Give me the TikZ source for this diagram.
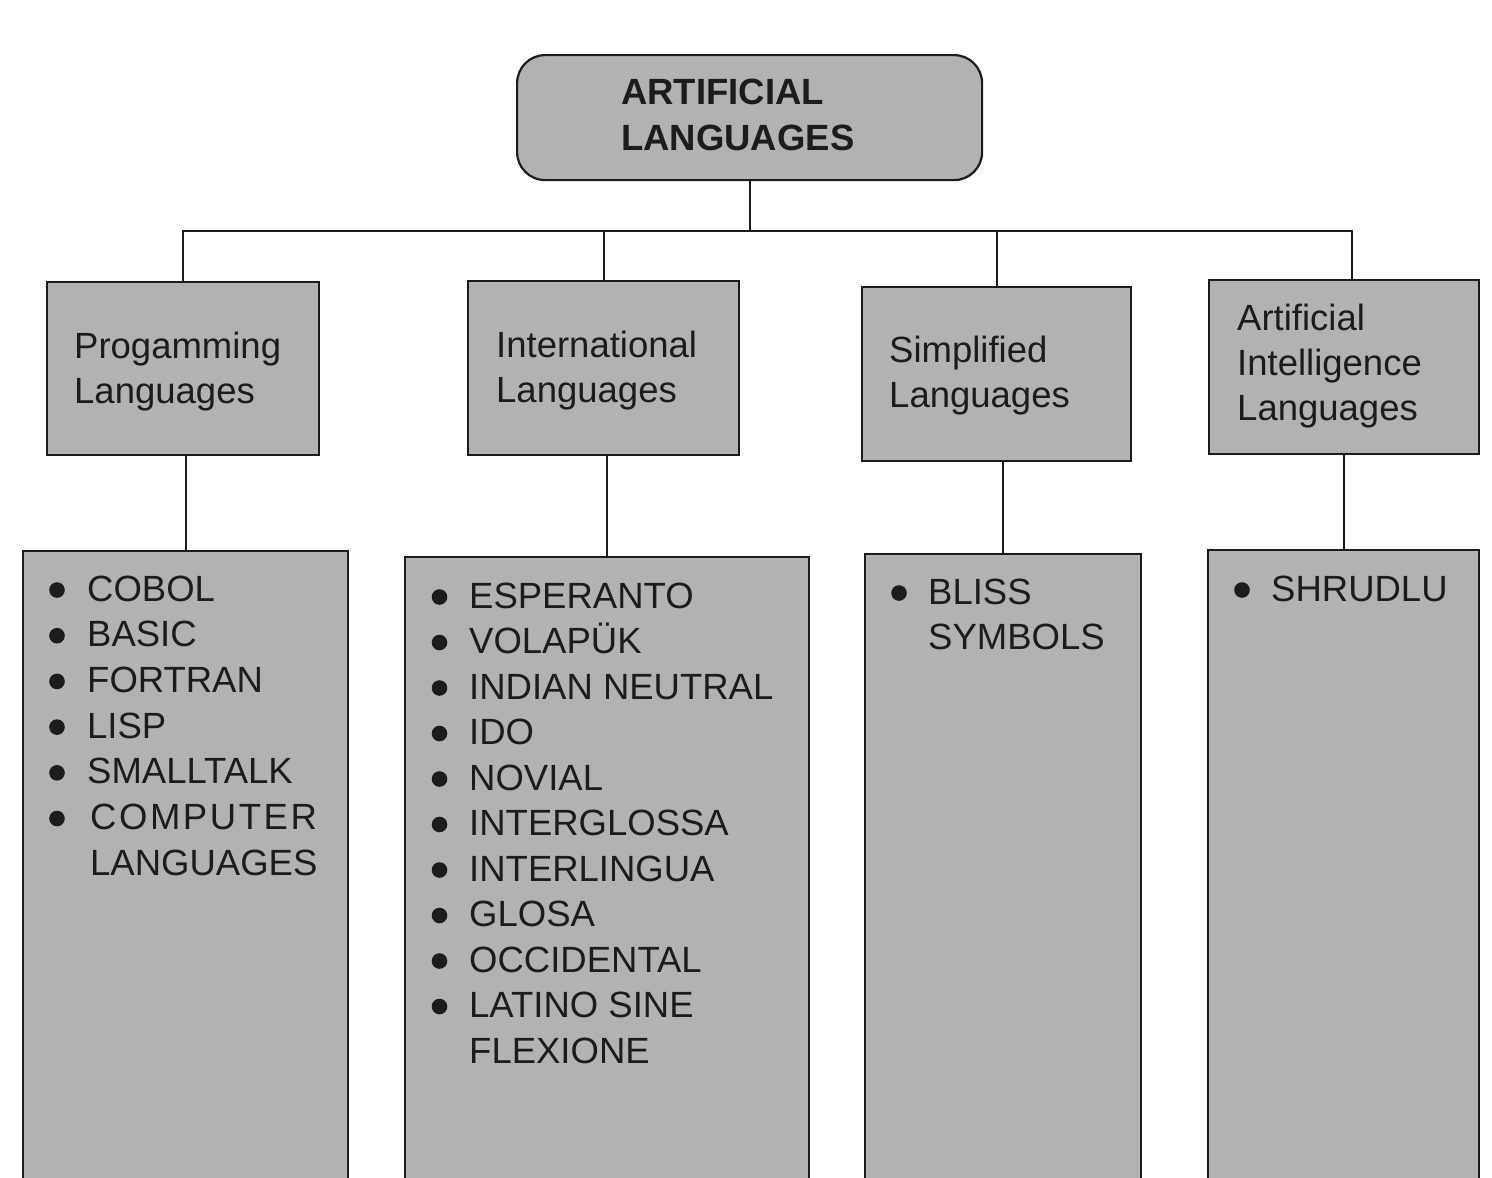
\documentclass[tikz,border=0pt]{standalone}
\usepackage{fontspec}
\setmainfont{Liberation Sans}
\definecolor{boxgray}{RGB}{178,178,178}
\definecolor{ink}{RGB}{28,28,28}
\begin{document}
\begin{tikzpicture}[x=1pt,y=-1pt,
  box/.style={draw=ink,fill=boxgray,line width=2.2pt,anchor=north west,inner sep=0pt},
  conn/.style={draw=ink,line width=2pt},
  lbl/.style={inner sep=0pt,anchor=base west,text=ink,font=\fontsize{36.5}{45.5}\selectfont},
  blt/.style={fill=ink}]
\useasboundingbox (0,0) rectangle (1492,1178);
% top
\node[box,rounded corners=28pt,minimum width=465pt,minimum height=125pt] (top) at (516,54) {};
\node[lbl,font=\fontsize{36.5}{45.5}\selectfont\bfseries] (t1) at (621,104) {ARTIFICIAL};
\node[lbl,font=\fontsize{36.5}{45.5}\selectfont\bfseries] (t2) at (621,150) {LANGUAGES};
% level 2
\node[box,minimum width=272pt,minimum height=173pt] (p1) at (46,281) {};
\node[box,minimum width=271pt,minimum height=174pt] (p2) at (467,280) {};
\node[box,minimum width=269pt,minimum height=174pt] (p3) at (861,286) {};
\node[box,minimum width=270pt,minimum height=174pt] (p4) at (1208,279) {};
\node[lbl] (p1a) at (74,358) {Progamming};
\node[lbl] (p1b) at (74,403) {Languages};
\node[lbl] (p2a) at (496,357) {International};
\node[lbl] (p2b) at (496,402) {Languages};
\node[lbl] (p3a) at (889,362) {Simplified};
\node[lbl] (p3b) at (889,407) {Languages};
\node[lbl] (p4a) at (1237,330) {Artificial};
\node[lbl] (p4b) at (1237,375) {Intelligence};
\node[lbl] (p4c) at (1237,420) {Languages};
% level 3
\node[box,minimum width=325pt,minimum height=660pt] (l1) at (22,550) {};
\node[box,minimum width=404pt,minimum height=660pt] (l2) at (404,556) {};
\node[box,minimum width=276pt,minimum height=660pt] (l3) at (864,553) {};
\node[box,minimum width=271pt,minimum height=660pt] (l4) at (1207,549) {};
% connectors
\coordinate (hub) at (top.south |- 0,231);
\draw[conn] (top.south) -- (hub);
\draw[conn] (p1.north) |- (hub);
\draw[conn] ([xshift=8pt]p4.north) |- (hub);
\draw[conn] (p2.north) -- (p2.north |- hub);
\draw[conn] (p3.north) -- (p3.north |- hub);
\draw[conn] (l1.north) -- (l1.north |- p1.south);
\draw[conn] (l2.north) -- (l2.north |- p2.south);
\draw[conn] (l3.north) -- (l3.north |- p3.south);
\draw[conn] (l4.north) -- (l4.north |- p4.south);
% list 1
\foreach \t [count=\i] in {COBOL,BASIC,FORTRAN,LISP,SMALLTALK}{
  \node[lbl] (a\i) at (87,{601+(\i-1)*45.7}) {\t};
  \fill[blt] (57,{590+(\i-1)*45.7}) circle (7.8);
}
\node[lbl] (a6) at (90,829.5) {\addfontfeature{LetterSpace=7}COMPUTER};
\fill[blt] (57,818.5) circle (7.8);
\node[lbl] (a7) at (90,875) {LANGUAGES};
% list 2
\foreach \t [count=\i] in {ESPERANTO,VOLAP\"UK,INDIAN NEUTRAL,IDO,NOVIAL,INTERGLOSSA,INTERLINGUA,GLOSA,OCCIDENTAL,LATINO SINE}{
  \node[lbl] (b\i) at (469,{608+(\i-1)*45.5}) {\t};
  \fill[blt] (439.5,{597+(\i-1)*45.5}) circle (7.8);
}
\node[lbl] (b11) at (469,1063) {FLEXIONE};
% list 3
\node[lbl] (c1) at (928,604) {BLISS};
\fill[blt] (899,593) circle (7.8);
\node[lbl] (c2) at (928,649.5) {SYMBOLS};
% list 4
\node[lbl] (d1) at (1271,601) {SHRUDLU};
\fill[blt] (1242,590) circle (7.8);
\end{tikzpicture}
\end{document}
